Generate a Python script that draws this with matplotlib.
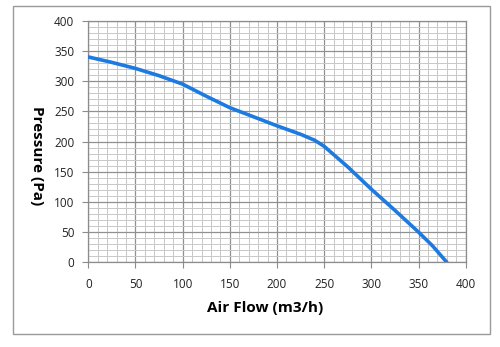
import matplotlib.pyplot as plt
from matplotlib.patches import Rectangle
from matplotlib.ticker import MultipleLocator

# values
air_flow = [0, 25, 50, 75, 100, 125, 150, 175, 200, 225, 240, 250, 275, 300, 325, 350, 365, 380]
pressure = [340, 331, 321, 309, 295, 275, 256, 241, 226, 212, 202, 192, 158, 121, 86, 50, 27, 0]

x_ticks = [0, 50, 100, 150, 200, 250, 300, 350, 400]
y_ticks = [0, 50, 100, 150, 200, 250, 300, 350, 400]

plt.rcParams['font.family'] = ['Open Sans', 'DejaVu Sans']

fig = plt.figure(figsize=(5, 3.47), dpi=100)
ax = fig.add_axes([0.1766, 0.2441, 0.7548, 0.6962])

# outer chart frame
fig.patches.append(Rectangle((13 / 500, 1 - 334 / 347), 477 / 500, 328 / 347,
                             transform=fig.transFigure, fill=False,
                             edgecolor='#9a9a9a', linewidth=1.0))

ax.plot(air_flow, pressure, color='#1c7ae0', linewidth=2.6, solid_capstyle='round', zorder=3)

ax.set_xlim(0, 400)
ax.set_ylim(0, 400)
ax.set_xticks(x_ticks)
ax.set_yticks(y_ticks)
ax.xaxis.set_minor_locator(MultipleLocator(10))
ax.yaxis.set_minor_locator(MultipleLocator(10))

ax.grid(True, which='major', color='#909090', linewidth=0.9)
ax.grid(True, which='minor', color='#c8c8c8', linewidth=0.7)
ax.set_axisbelow(True)

for s in ax.spines.values():
    s.set_color('#8c8c8c')
    s.set_linewidth(0.9)

ax.tick_params(which='major', length=4, color='#8c8c8c', labelsize=8.5,
               labelcolor='#222222')
ax.tick_params(axis='x', which='major', pad=7)
ax.tick_params(axis='y', which='major', pad=6)
ax.tick_params(which='minor', length=0)

ax.set_xlabel('Air Flow (m3/h)', fontsize=11, fontweight='bold', va='center', ha='center')
ax.xaxis.set_label_coords(0.468, -0.189)
ax.set_ylabel('Pressure (Pa)', fontsize=11, fontweight='bold', rotation=-90,
              va='center', ha='center')
ax.yaxis.set_label_coords(-0.136, 0.44)

fig.savefig('out.png', dpi=100)
